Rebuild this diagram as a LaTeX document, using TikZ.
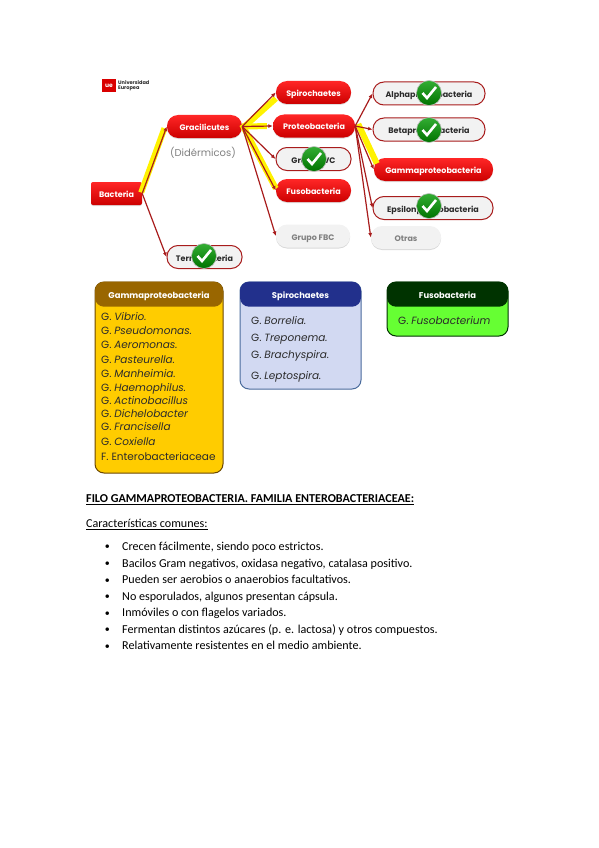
\documentclass[tikz,border=0pt]{standalone}
\usepackage{fontspec}
\setmainfont{Carlito}
\newfontfamily\gothic{Poppins}
\usetikzlibrary{arrows.meta,positioning,shadows}
\definecolor{Wine}{HTML}{A81C1C}
\definecolor{Marker}{HTML}{FFF200}
\definecolor{Coal}{HTML}{2B2B2B}
\definecolor{Ghost}{HTML}{F2F2F2}
\definecolor{Amber}{HTML}{FFCC00}
\definecolor{Umber}{HTML}{996600}
\definecolor{Periwinkle}{HTML}{D2D9F2}
\definecolor{Navy}{HTML}{22308C}
\definecolor{Steel}{HTML}{4A6B9C}
\definecolor{Lime}{HTML}{66FF33}
\definecolor{Forest}{HTML}{003300}

\begin{document}
\begin{tikzpicture}[
      x=1pt, y=-1pt,
      >={Latex[length=4.5pt,width=4pt]},
      taxon/.style={minimum height=23pt, inner sep=0pt, rounded corners=11pt,
                    text height=8pt, text depth=0pt,
                    font=\gothic\bfseries\fontsize{8}{10}\selectfont},
      redbox/.style={taxon, top color=red!85!white, bottom color=red!80!black,
                     text=white, drop shadow={opacity=.25,shadow xshift=0pt,shadow yshift=-1pt}},
      outbox/.style={taxon, draw=Wine, line width=1pt, fill=Ghost, text=Coal},
      offbox/.style={taxon, fill=Ghost, text=gray,
                     drop shadow={opacity=.3,shadow xshift=0pt,shadow yshift=-1pt}},
      okmark/.style={circle, minimum size=25pt, inner sep=0pt, draw=gray!50, line width=.6pt,
                     top color=green!60!black!80!white, bottom color=green!45!black,
                     path picture={\draw[white, line width=2.6pt]
                       ([shift={(-6.5,0)}]path picture bounding box.center) --
                       ([shift={(-2,5)}]path picture bounding box.center) --
                       ([shift={(7,-6)}]path picture bounding box.center);}},
      link/.style={->, Wine, line width=1.2pt},
      marked/.style={Marker, line width=6pt},
      card/.style={rounded corners=9pt, line width=1pt, minimum width=#1},
      cardhead/.style={rounded corners=9pt, minimum height=25pt, minimum width=#1, inner sep=0pt,
                       text height=8pt, text depth=0pt, text=white,
                       font=\gothic\bfseries\fontsize{8.4}{10}\selectfont},
      genus/.style={anchor=west, inner sep=0pt, text=Coal, text height=8pt, text depth=0pt,
                    font=\gothic\fontsize{10.5}{12}\selectfont},
      head/.style={anchor=west, inner sep=0pt, text height=9pt, text depth=0pt,
                   font=\fontsize{12.1}{14}\selectfont},
      item/.style={head, label={[label distance=12pt, inner sep=0pt, yshift=-1.5pt]left:\textbullet}}
    ]
      \useasboundingbox (0,0) rectangle (599,848);

      % logo
      \node[fill=red!85!black, minimum size=13.5pt, inner sep=0pt, text=white,
            font=\gothic\bfseries\fontsize{6}{6}\selectfont] (logo) at (109,85.5) {ue};
      \node[right=2pt of logo, inner sep=0pt, align=left, text=Coal,
            font=\gothic\bfseries\fontsize{5}{5.4}\selectfont] (uni) {Universidad\\Europea};

      % tree
      \node[redbox, minimum width=51pt, rounded corners=2pt] (bac) at (116.5,193.5) {Bacteria};
      \node[redbox, minimum width=75pt] (gra) at (204.5,126.5) {Gracilicutes};
      \node[outbox, minimum width=75pt] (ter) at (204.5,257) {Terrabacteria};
      \node[inner sep=0pt, text=gray, font=\gothic\fontsize{10}{12}\selectfont] (did) at (203,153) {(Didérmicos)};

      \node[redbox, minimum width=75pt] (spi) at (313.5,92.5) {Spirochaetes};
      \node[redbox, minimum width=82pt] (pro) at (314,126) {Proteobacteria};
      \node[outbox, minimum width=75pt] (pvc) at (313.5,159) {Grupo PVC};
      \node[redbox, minimum width=75pt] (fus) at (313.5,190.5) {Fusobacteria};
      \node[offbox, minimum width=74pt] (fbc) at (313,236) {Grupo FBC};

      \node[outbox, minimum width=112pt] (alp) at (429,93.5) {Alphaproteobacteria};
      \node[outbox, minimum width=112pt] (bet) at (429,129.5) {Betaproteobacteria};
      \node[redbox, minimum width=119pt] (gam) at (433.5,169.5) {Gammaproteobacteria};
      \node[outbox, minimum width=120pt] (eps) at (433,208) {Epsilonproteobacteria};
      \node[offbox, minimum width=70pt] (otr) at (406,237.5) {Otras};

      % highlighted routes
      \draw[marked, shorten >=4pt] ([shift={(-1,-1)}]bac.east) -- ([shift={(-1,-2)}]gra.west);
      \draw[marked] ([yshift=-2pt]gra.east) -- ([yshift=-6pt]spi.west);
      \draw[marked, shorten >=6pt] (gra.east) -- (pro.west);
      \draw[marked] ([yshift=2pt]gra.east) -- ([yshift=2pt]fus.west);
      \draw[marked] ([shift={(3,-2)}]pro.east) -- ([shift={(3,-6)}]gam.west);

      \draw[link] (bac.east) -- (gra.west);
      \draw[link] (bac.east) -- (ter.west);
      \draw[link] (gra.east) -- (spi.west);
      \draw[link] (gra.east) -- (pro.west);
      \draw[link] (gra.east) -- (pvc.west);
      \draw[link] (gra.east) -- (fus.west);
      \draw[link] (gra.east) -- (fbc.west);
      \draw[link] (pro.east) -- (alp.west);
      \draw[link] (pro.east) -- (bet.west);
      \draw[link] (pro.east) -- (gam.west);
      \draw[link] (pro.east) -- (eps.west);
      \draw[link] (pro.east) -- (otr.west);

      \node[okmark] (ok1) at (204,256) {};
      \node[okmark] (ok2) at (314,159) {};
      \node[okmark] (ok3) at (429,93) {};
      \node[okmark] (ok4) at (429,130) {};
      \node[okmark] (ok5) at (429,206) {};

      % cards
      \node[card=128pt, draw=Umber!70!black, fill=Amber, minimum height=191pt] (cgam) at (159,377.5) {};
      \node[cardhead=128pt, fill=Umber, anchor=north] (hgam) at (cgam.north) {Gammaproteobacteria};
      \node[genus] (g1) at (101,316.7) {G. \textit{Vibrio.}};
      \node[genus] (g2) at (101,330.7) {G. \textit{Pseudomonas.}};
      \node[genus] (g3) at (101,344.3) {G. \textit{Aeromonas.}};
      \node[genus] (g4) at (101,359.3) {G. \textit{Pasteurella.}};
      \node[genus] (g5) at (101,373.7) {G. \textit{Manheimia.}};
      \node[genus] (g6) at (101,387.3) {G. \textit{Haemophilus.}};
      \node[genus] (g7) at (101,400.7) {G. \textit{Actinobacillus}};
      \node[genus] (g8) at (101,413.3) {G. \textit{Dichelobacter}};
      \node[genus] (g9) at (101,426) {G. \textit{Francisella}};
      \node[genus] (g10) at (101,441.3) {G. \textit{Coxiella}};
      \node[genus] (g11) at (101,456.7) {F. Enterobacteriaceae};

      \node[card=121pt, draw=Steel, fill=Periwinkle, minimum height=107pt] (cspi) at (300.5,335.5) {};
      \node[cardhead=121pt, fill=Navy, anchor=north] (hspi) at (cspi.north) {Spirochaetes};
      \node[genus] (s1) at (251,320) {G. \textit{Borrelia.}};
      \node[genus] (s2) at (251,337) {G. \textit{Treponema.}};
      \node[genus] (s3) at (251,354.7) {G. \textit{Brachyspira.}};
      \node[genus] (s4) at (251,375) {G. \textit{Leptospira.}};

      \node[card=121pt, draw=Forest, fill=Lime, minimum height=54pt] (cfus) at (447.5,309) {};
      \node[cardhead=121pt, fill=Forest, anchor=north] (hfus) at (cfus.north) {Fusobacteria};
      \node[genus] (f1) at (398,320) {G. \textit{Fusobacterium}};

      % text below
      \node[head, font=\bfseries\fontsize{12.1}{14}\selectfont] (filo) at (86,498)
        {\underline{FILO GAMMAPROTEOBACTERIA. FAMILIA ENTEROBACTERIACEAE:}};
      \node[head] (cara) at (86,522.7) {\underline{Características comunes:}};
      \node[item] (c1) at (122,546) {Crecen fácilmente, siendo poco estrictos.};
      \node[item] (c2) at (122,563) {Bacilos Gram negativos, oxidasa negativo, catalasa positivo.};
      \node[item] (c3) at (122,579.3) {Pueden ser aerobios o anaerobios facultativos.};
      \node[item] (c4) at (122,595.7) {No esporulados, algunos presentan cápsula.};
      \node[item] (c5) at (122,612.3) {Inmóviles o con flagelos variados.};
      \node[item] (c6) at (122,628.7) {Fermentan distintos azúcares (p. e. lactosa) y otros compuestos.};
      \node[item] (c7) at (122,645.3) {Relativamente resistentes en el medio ambiente.};
    \end{tikzpicture}
\end{document}
